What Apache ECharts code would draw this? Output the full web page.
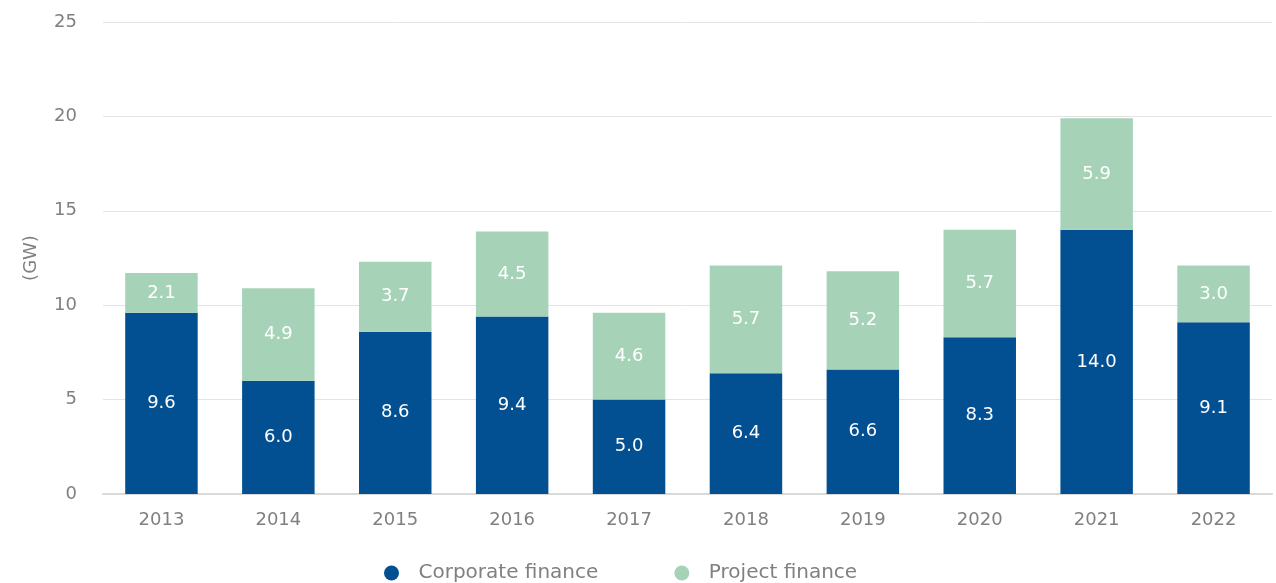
<!DOCTYPE html>
<html>
<head>
<meta charset="utf-8">
<script src="https://cdn.jsdelivr.net/npm/echarts@6/dist/echarts.min.js"></script>
<style>
  html, body { margin: 0; padding: 0; background: #fff; }
  #chart { width: 1276px; height: 583px; }
</style>
</head>
<body>
<div id="chart"></div>
<script>
var years = ['2013', '2014', '2015', '2016', '2017', '2018', '2019', '2020', '2021', '2022'];
var corporate = [9.6, 6.0, 8.6, 9.4, 5.0, 6.4, 6.6, 8.3, 14.0, 9.1];
var project = [2.1, 4.9, 3.7, 4.5, 4.6, 5.7, 5.2, 5.7, 5.9, 3.0];

var font = 'DejaVu Sans';
var chart = echarts.init(document.getElementById('chart'));
var labelStyle = {
    show: true,
    position: 'inside',
    color: '#fff',
    fontFamily: font,
    fontSize: 18,
    formatter: function (p) { return p.value.toFixed(1); }
};
chart.setOption({
    animation: false,
    textStyle: { fontFamily: font },
    grid: { left: 103, right: 4, top: 22, bottom: 89 },
    legend: {
        left: 379,
        top: 558,
        icon: 'circle',
        itemWidth: 44,
        itemHeight: 15,
        itemGap: 76,
        textStyle: { color: '#808080', fontSize: 20, fontFamily: font },
        data: ['Corporate finance', 'Project finance']
    },
    xAxis: {
        type: 'category',
        data: years,
        axisTick: { show: false },
        axisLine: { lineStyle: { color: '#d9d9d9', width: 2 } },
        axisLabel: { color: '#808080', fontSize: 18, margin: 17 }
    },
    yAxis: {
        type: 'value',
        min: 0,
        max: 25,
        interval: 5,
        name: '(GW)',
        nameLocation: 'middle',
        nameGap: 63,
        nameTextStyle: { color: '#808080', fontSize: 18 },
        axisLabel: { color: '#808080', fontSize: 18, margin: 26 },
        splitLine: { lineStyle: { color: '#e3e3e3' } }
    },
    series: [
        {
            name: 'Corporate finance',
            type: 'bar',
            stack: 'total',
            barWidth: '62%',
            itemStyle: { color: '#025091' },
            label: labelStyle,
            data: corporate
        },
        {
            name: 'Project finance',
            type: 'bar',
            stack: 'total',
            itemStyle: { color: '#a6d3b8' },
            label: labelStyle,
            data: project
        }
    ]
});
window.onresize = function () {
    chart.resize();
};
</script>
</body>
</html>
